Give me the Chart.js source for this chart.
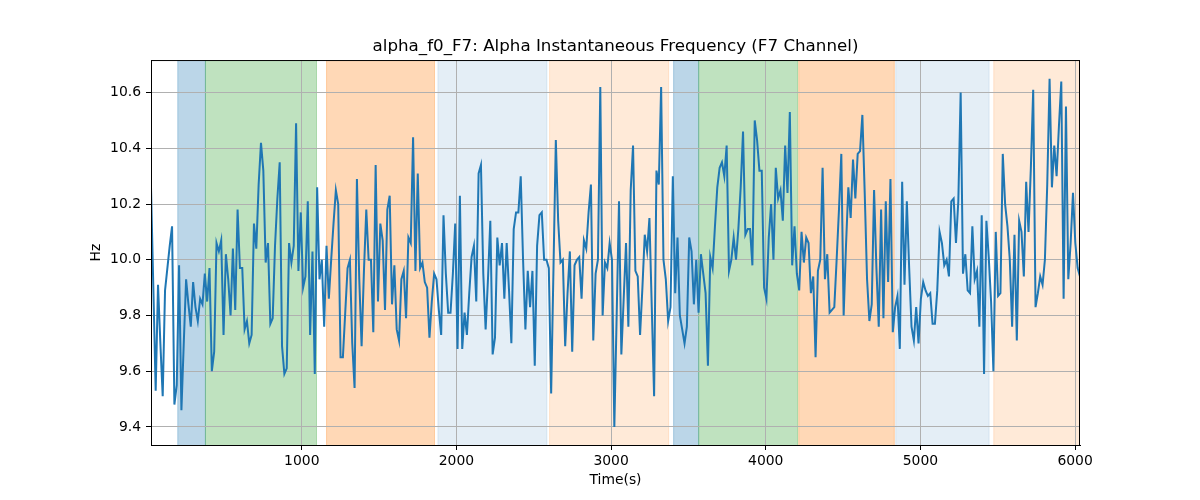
<!DOCTYPE html>
<html>
<head>
<meta charset="utf-8">
<script src="https://cdn.jsdelivr.net/npm/chart.js@4.4.1/dist/chart.umd.min.js"></script>
<style>
  html, body { margin: 0; padding: 0; background: #fff; }
</style>
</head>
<body>
<canvas id="myChart" width="1200" height="500"></canvas>
<script>
// sample times: first sample and spacing (s)
const t0 = 25;
const dt = 15.13;

// alpha instantaneous frequency, F7 channel (Hz)
const hz = [
  10.26, 9.90, 9.53, 9.91, 9.70, 9.51, 9.89, 9.97, 10.05, 10.12, 9.48, 9.55, 9.98, 9.46, 9.70, 9.93, 9.84, 9.76, 9.92, 9.83, 9.78, 9.86, 9.84, 9.95, 9.85, 9.97, 9.60, 9.67, 10.06, 10.03, 10.07, 9.73,
  10.02, 9.93, 9.80, 10.04, 9.82, 10.18, 9.97, 9.97, 9.75, 9.78, 9.70, 9.73, 10.13, 10.04, 10.27, 10.42, 10.32, 9.99, 10.06, 9.77, 9.79, 10.05, 10.22, 10.35, 9.69, 9.59, 9.61, 10.06, 9.99, 10.05, 10.49, 9.96,
  10.17, 9.90, 9.94, 10.21, 9.73, 10.03, 9.59, 10.26, 9.93, 10.00, 9.76, 10.05, 9.86, 10.00, 10.13, 10.25, 10.20, 9.65, 9.65, 9.81, 9.97, 10.00, 9.70, 9.54, 10.29, 9.93, 9.69, 9.96, 10.18, 10.00, 10.00, 9.74, 10.34, 9.85,
  10.13, 10.07, 9.82, 10.18, 10.23, 9.84, 9.98, 9.75, 9.71, 9.93, 9.96, 9.79, 10.08, 10.06, 10.44, 9.96, 10.31, 9.97, 9.99, 9.92, 9.90, 9.72, 9.85, 9.95, 9.93, 9.82, 9.73, 10.16, 9.95, 9.81, 9.81, 9.95, 10.13,
  9.68, 10.23, 9.68, 9.81, 9.73, 9.88, 10.01, 10.05, 9.85, 10.31, 10.34, 9.95, 9.75, 9.93, 10.14, 9.66, 9.72, 10.08, 9.98, 10.06, 9.86, 10.06, 9.89, 9.70, 10.11, 10.17, 10.17, 10.30, 10.00, 9.75, 9.96, 9.83, 9.96, 9.62,
  10.05, 10.16, 10.17, 10.00, 10.00, 9.97, 9.52, 9.97, 10.43, 10.14, 9.99, 10.00, 9.69, 9.88, 10.03, 9.67, 9.98, 10.00, 10.01, 9.86, 10.07, 10.04, 10.17, 10.27, 9.71, 9.95, 10.00, 10.62, 9.80, 9.99, 9.97, 10.06, 10.00,
  9.40, 9.80, 10.21, 9.66, 9.86, 10.06, 9.76, 10.25, 10.41, 9.96, 9.94, 9.73, 9.90, 10.09, 10.03, 10.15, 9.83, 9.51, 10.32, 10.27, 10.62, 10.00, 9.93, 9.78, 9.83, 10.30, 9.88, 10.08, 9.80, 9.75, 9.70, 9.76, 10.08, 10.03,
  9.84, 10.00, 9.81, 10.02, 9.95, 9.88, 9.62, 10.01, 9.97, 10.12, 10.26, 10.33, 10.35, 10.30, 10.41, 9.96, 10.00, 10.08, 10.00, 10.11, 10.26, 10.46, 10.09, 10.11, 10.11, 9.98, 10.50, 10.43, 10.32, 10.32, 9.90, 9.86, 10.08, 10.20,
  10.00, 10.33, 10.22, 10.25, 10.14, 10.41, 10.24, 10.53, 9.98, 10.12, 9.95, 9.89, 10.10, 9.99, 10.08, 10.06, 9.88, 9.94, 9.65, 9.96, 10.00, 10.33, 9.93, 10.02, 9.81, 9.82, 9.83, 10.00, 10.18, 10.38, 9.80, 10.05, 10.26,
  10.15, 10.36, 10.22, 10.38, 10.39, 10.52, 10.24, 9.93, 9.78, 9.84, 10.25, 9.97, 9.76, 10.18, 9.79, 10.21, 9.92, 10.29, 9.74, 9.83, 9.87, 9.68, 10.28, 9.91, 10.21, 9.97, 9.76, 9.71, 9.83, 9.70, 9.86, 9.92, 9.89, 9.87,
  9.88, 9.77, 9.77, 9.89, 10.10, 10.06, 9.98, 10.00, 9.94, 10.21, 10.22, 10.06, 10.21, 10.60, 9.95, 10.02, 9.89, 9.88, 10.12, 9.93, 9.96, 9.76, 10.16, 9.59, 10.14, 10.01, 9.85, 9.60, 10.10, 9.87, 9.88, 10.38, 10.20,
  10.12, 10.00, 9.76, 10.09, 9.71, 10.14, 10.10, 9.94, 10.28, 10.10, 10.33, 10.61, 9.83, 9.88, 9.94, 9.91, 10.00, 10.27, 10.65, 10.26, 10.41, 10.30, 10.48, 10.64, 9.86, 10.55, 9.93, 10.06, 10.24, 10.06, 9.97, 9.94
];

const yTicks = [9.4, 9.6, 9.8, 10.0, 10.2, 10.4, 10.6];
const xTicks = [1000, 2000, 3000, 4000, 5000, 6000];

// shaded segments (s)
const spanStart = [198, 377, 1160, 1880, 2602, 3404, 3566, 4213, 4840, 5474];
const spanEnd   = [377, 1095, 1858, 2585, 3372, 3566, 4206, 4831, 5444, 6040];
const spanColor = [
  'rgba(31,119,180,0.3)', 'rgba(44,160,44,0.3)', 'rgba(255,127,14,0.3)', 'rgba(31,119,180,0.12)', 'rgba(255,127,14,0.16)',
  'rgba(31,119,180,0.3)', 'rgba(44,160,44,0.3)', 'rgba(255,127,14,0.3)', 'rgba(31,119,180,0.12)', 'rgba(255,127,14,0.16)'
];

const points = hz.map((v, i) => ({ x: t0 + i * dt, y: v }));

const spansPlugin = {
  id: 'spans',
  beforeDraw(chart) {
    const c = chart.ctx;
    const a = chart.chartArea;
    const xs = chart.scales.x;
    c.save();
    c.fillStyle = '#fff';
    c.fillRect(0, 0, chart.width, chart.height);
    c.beginPath();
    c.rect(a.left, a.top, a.right - a.left, a.bottom - a.top);
    c.clip();
    for (let i = 0; i < spanStart.length; i++) {
      const x1 = xs.getPixelForValue(spanStart[i]);
      const x2 = xs.getPixelForValue(spanEnd[i]);
      c.fillStyle = spanColor[i];
      c.fillRect(x1, a.top, x2 - x1, a.bottom - a.top);
      c.strokeStyle = spanColor[i];
      c.lineWidth = 1;
      c.strokeRect(x1, a.top - 2, x2 - x1, a.bottom - a.top + 4);
    }
    c.restore();
  },
  afterDraw(chart) {
    const c = chart.ctx;
    const a = chart.chartArea;
    c.save();
    c.strokeStyle = '#000';
    c.lineWidth = 1;
    c.strokeRect(a.left + 0.5, a.top + 0.5, a.right - a.left - 1, a.bottom - a.top);
    c.restore();
  }
};

const font = { family: 'DejaVu Sans', size: 13.9 };

const ctx = document.getElementById('myChart').getContext('2d');
const myChart = new Chart(ctx, {
  type: 'line',
  data: {
    datasets: [{
      data: points,
      borderColor: '#1f77b4',
      borderWidth: 2,
      pointRadius: 0,
      tension: 0,
      fill: false
    }]
  },
  options: {
    responsive: false,
    animation: false,
    devicePixelRatio: 1,
    // left padding keeps the title centred over the plot area
    layout: { padding: { left: 31, right: 0, top: 0, bottom: 0 } },
    plugins: {
      legend: { display: false },
      tooltip: { enabled: false },
      title: {
        display: true,
        text: 'alpha_f0_F7: Alpha Instantaneous Frequency (F7 Channel)',
        color: '#000',
        font: { family: 'DejaVu Sans', size: 16.7, weight: 'normal' },
        padding: { top: 37, bottom: 3 }
      }
    },
    scales: {
      x: {
        type: 'linear',
        min: t0,
        max: t0 + (hz.length - 1) * dt,
        afterFit(s) { s.height = 55; },
        afterBuildTicks(s) { s.ticks = xTicks.map(v => ({ value: v })); },
        ticks: { color: '#000', font: font, padding: 3, maxRotation: 0, callback: v => String(v) },
        grid: { color: '#b0b0b0', lineWidth: 1, tickColor: '#000', tickLength: 5 },
        border: { color: '#000', width: 1 },
        title: { display: true, text: 'Time(s)', color: '#000', font: font, padding: { top: 0, bottom: 11 } }
      },
      y: {
        min: 9.335,
        max: 10.717,
        afterFit(s) { s.width = 120; },
        afterBuildTicks(s) { s.ticks = yTicks.map(v => ({ value: v })); },
        ticks: { color: '#000', font: font, padding: 5, callback: v => v.toFixed(1) },
        grid: { color: '#b0b0b0', lineWidth: 1, tickColor: '#000', tickLength: 5 },
        border: { color: '#000', width: 1 },
        title: { display: true, text: 'Hz', color: '#000', font: font, padding: { top: 57, bottom: 0 } }
      },
      // empty right-hand margin
      yRight: {
        position: 'right',
        afterFit(s) { s.width = 120; },
        ticks: { display: false },
        grid: { display: false, drawTicks: false },
        border: { display: false }
      }
    }
  },
  plugins: [spansPlugin]
});
</script>
</body>
</html>
